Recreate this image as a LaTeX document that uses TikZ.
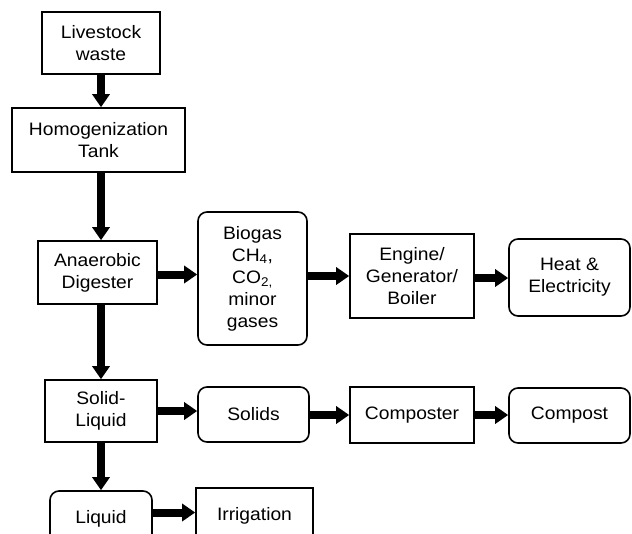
\documentclass[tikz,border=0pt]{standalone}
\usepackage{fontspec}
\setmainfont{Liberation Sans}[FakeStretch=1.07]
\usetikzlibrary{calc}
\usetikzlibrary{arrows.meta}

\begin{document}
\begin{tikzpicture}[x=1pt, y=-1pt,
    box/.style={draw, line width=1.6pt, align=center, inner sep=0pt,
      font=\fontsize{18}{22}\selectfont},
    rbox/.style={box, rounded corners=9pt},
    flow/.style={line width=8pt, -{Triangle[width=17pt, length=13pt]}}]
      \useasboundingbox (0,0) rectangle (632,533);
      % Main line
      \node[box, minimum width=118, minimum height=62] (waste) at (101,43) {Livestock\\waste};
      \node[box, minimum width=173, minimum height=64] (tank) at (98.5,140) {Homogenization\\Tank};
      \node[box, minimum width=119, minimum height=63] (digester) at (97.5,272.5) {Anaerobic\\Digester};
      \node[box, minimum width=112, minimum height=62] (separator) at (101,411) {Solid-\\Liquid};
      \node[rbox, minimum width=102, minimum height=55] (liquid) at (101,518.5) {Liquid};
      % Biogas branch
      \node[rbox, minimum width=109, minimum height=133] (biogas) at (252.5,278.5)
        {Biogas\\CH\textsubscript{4},\\CO\textsubscript{2,}\\minor\\gases};
      \node[box, minimum width=124, minimum height=84] (engine) at (412,276) {Engine/\\Generator/\\Boiler};
      \node[rbox, minimum width=121, minimum height=77] (heat) at (569.5,277.5) {Heat \&\\Electricity};
      % Solids branch
      \node[rbox, minimum width=111, minimum height=55] (solids) at (253.5,414.5) {Solids};
      \node[box, minimum width=124, minimum height=56] (composter) at (412,415) {Composter};
      \node[rbox, minimum width=121, minimum height=55] (compost) at (569.5,415.5) {Compost};
      % Liquid branch
      \node[box, minimum width=117, minimum height=55] (irrigation) at (254.5,515.5) {Irrigation};
      % draw the flows
      \draw[flow] (waste.south) -- (waste.south |- tank.north);
      \draw[flow] (waste.south |- tank.south) -- (waste.south |- digester.north);
      \draw[flow] (digester.south -| separator.north) -- (separator.north);
      \draw[flow] (separator.south) -- (liquid.north);
      \draw[flow] ($(digester.east)+(0,2)$) -- ($(biogas.west |- digester.east)+(0,2)$);
      \draw[flow] (biogas.east |- engine.west) -- (engine.west);
      \draw[flow] ($(engine.east)+(0,2)$) -- ($(heat.west |- engine.east)+(0,2)$);
      \draw[flow] (separator.east) -- (separator.east -| solids.west);
      \draw[flow] (solids.east |- composter.west) -- (composter.west);
      \draw[flow] (composter.east) -- (composter.east -| compost.west);
      \draw[flow] ($(liquid.east |- irrigation.west)+(0,-3)$) -- ($(irrigation.west)+(0,-3)$);
    \end{tikzpicture}
\end{document}
